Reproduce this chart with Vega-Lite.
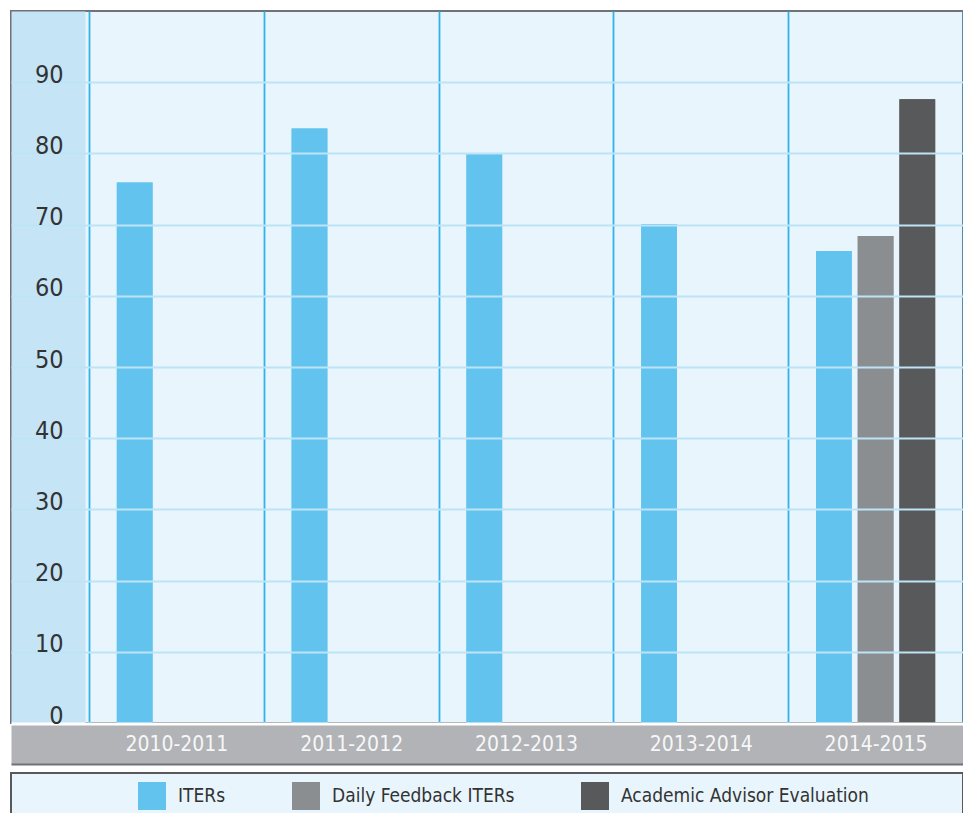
{
  "$schema": "https://vega.github.io/schema/vega-lite/v6.json",
  "padding": {"left": 10, "top": 10, "right": 0, "bottom": 0},
  "background": "#ffffff",
  "spacing": 7,
  "config": {
    "font": "DejaVu Sans Condensed, Roboto, sans-serif",
    "axis": {"title": null}
  },
  "datasets": {
    "scores": [
      {"year": "2010-2011", "series": "ITERs", "value": 75.9},
      {"year": "2011-2012", "series": "ITERs", "value": 83.5},
      {"year": "2012-2013", "series": "ITERs", "value": 80.0},
      {"year": "2013-2014", "series": "ITERs", "value": 70.1},
      {"year": "2014-2015", "series": "ITERs", "value": 66.3},
      {"year": "2014-2015", "series": "Daily Feedback ITERs", "value": 68.4},
      {"year": "2014-2015", "series": "Academic Advisor Evaluation", "value": 87.6}
    ]
  },
  "vconcat": [
    {
      "width": 952,
      "height": 712,
      "view": {"fill": "#e9f5fc", "stroke": "#6f7277", "strokeWidth": 2},
      "data": {"name": "scores"},
      "encoding": {
        "xOffset": {
          "field": "series",
          "type": "nominal",
          "scale": {
            "domain": ["ITERs", "Daily Feedback ITERs", "Academic Advisor Evaluation"],
            "paddingInner": 0.143,
            "paddingOuter": 0.667
          }
        },
        "color": {
          "field": "series",
          "type": "nominal",
          "scale": {
            "domain": ["ITERs", "Daily Feedback ITERs", "Academic Advisor Evaluation"],
            "range": ["#63c3ef", "#8a8e91", "#58595b"]
          },
          "legend": {
            "orient": "none",
            "legendX": 127,
            "legendY": 771,
            "direction": "horizontal",
            "title": null,
            "padding": 0,
            "symbolType": "square",
            "symbolSize": 784,
            "symbolStrokeWidth": 0,
            "symbolOpacity": 1,
            "labelFontSize": 19,
            "labelColor": "#333333",
            "labelOffset": 12,
            "labelLimit": 400,
            "columnPadding": 66
          }
        }
      },
      "layer": [
        {
          "description": "Bars with the panel decorations: grey year band under the plot and the shaded tick column",
          "mark": {"type": "bar"},
          "encoding": {
            "x": {
              "field": "year",
              "type": "nominal",
              "sort": null,
              "scale": {"paddingInner": 0, "paddingOuter": 0.2231, "align": 1},
              "axis": {
                "zindex": 1,
                "orient": "bottom",
                "offset": 21.5,
                "domainColor": "#b1b3b6",
                "domainWidth": 39,
                "domainCap": "butt",
                "ticks": false,
                "labels": false,
                "grid": false
              }
            },
            "y": {
              "field": "value",
              "type": "quantitative",
              "scale": {"domain": [0, 100], "nice": false},
              "axis": {
                "zindex": 1,
                "orient": "left",
                "offset": -37,
                "domainColor": "#c5e4f6",
                "domainWidth": 74,
                "domainCap": "butt",
                "ticks": false,
                "labels": false,
                "grid": false
              }
            }
          }
        },
        {
          "description": "Same bars again, carrying the tick labels, gridlines and the band's lower edge",
          "mark": {"type": "bar"},
          "encoding": {
            "x": {
              "field": "year",
              "type": "nominal",
              "sort": null,
              "scale": {"paddingInner": 0, "paddingOuter": 0.2231, "align": 1},
              "axis": {
                "zindex": 2,
                "orient": "bottom",
                "offset": 41,
                "domain": true,
                "domainColor": "#6f7277",
                "domainWidth": 2,
                "domainCap": "butt",
                "ticks": false,
                "tickSize": 0,
                "tickBand": "extent",
                "grid": true,
                "gridColor": "#2fb3ea",
                "gridWidth": 1.8,
                "labelAngle": 0,
                "labelColor": "#f6f7f8",
                "labelFontSize": 21,
                "labelBaseline": "middle",
                "labelPadding": -19.5
              }
            },
            "y": {
              "field": "value",
              "type": "quantitative",
              "scale": {"domain": [0, 100], "nice": false},
              "axis": {
                "zindex": 2,
                "orient": "left",
                "values": [0, 10, 20, 30, 40, 50, 60, 70, 80, 90],
                "domain": false,
                "ticks": false,
                "tickSize": 0,
                "grid": true,
                "gridColor": {"condition": {"test": "datum.value === 0", "value": "#ffffff"}, "value": "#bde3f6"},
                "gridWidth": 2,
                "labelColor": "#333333",
                "labelFontSize": 25,
                "labelAlign": "right",
                "labelBaseline": "alphabetic",
                "labelPadding": -52
              }
            }
          }
        }
      ],
      "resolve": {
        "scale": {"x": "independent", "y": "independent"},
        "axis": {"x": "independent", "y": "independent"}
      }
    },
    {
      "width": 952,
      "height": 41,
      "view": {"fill": "#e9f5fc", "stroke": "#58595b", "strokeWidth": 2},
      "data": {"values": []},
      "mark": "rect",
      "encoding": {}
    }
  ]
}
